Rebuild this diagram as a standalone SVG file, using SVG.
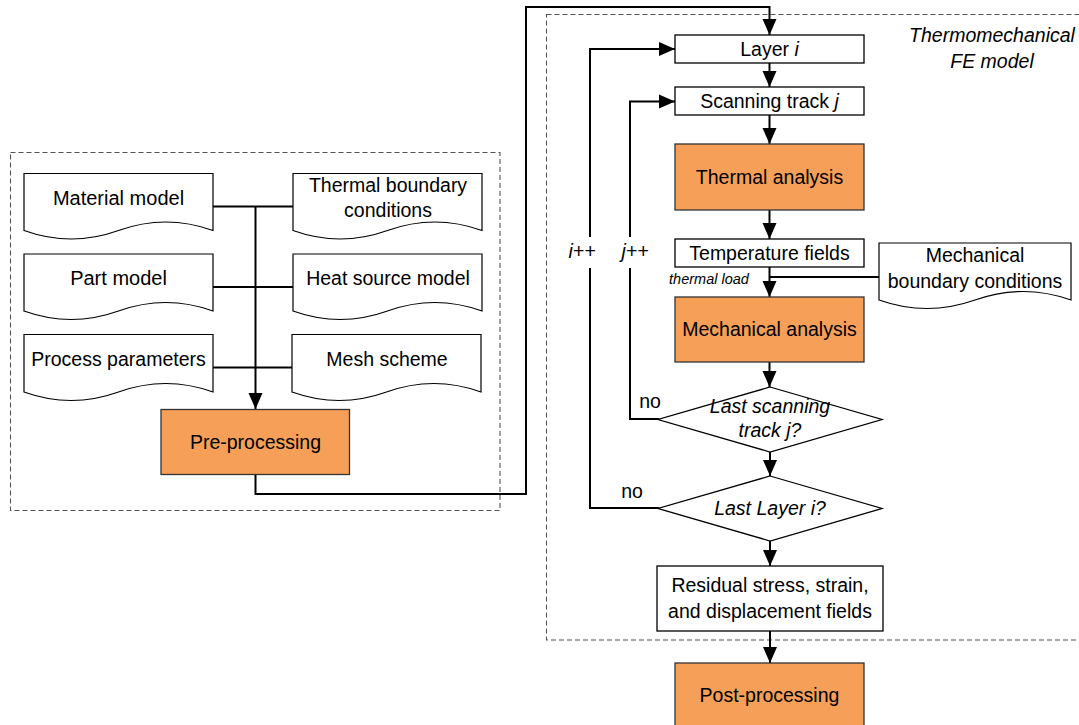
<svg xmlns="http://www.w3.org/2000/svg" width="1079" height="725" viewBox="0 0 1079 725">
<defs>
<style>
text{font-family:"Liberation Sans",Arial,sans-serif;font-size:19.5px;fill:#000;text-anchor:middle}
.it{font-style:italic}
.box{fill:#fff;stroke:#000;stroke-width:1.3}
.proc{fill:#F59F59;stroke:#333;stroke-width:1.3}
.doc{fill:#fff;stroke:#000;stroke-width:1.2}
.dash{fill:none;stroke:#555;stroke-width:1.1;stroke-dasharray:5 3}
.c{fill:none;stroke:#000;stroke-width:2}
.t{fill:none;stroke:#000;stroke-width:1.8}
.small{font-size:14.5px}
.big{font-size:20px}
</style>
<marker id="ah" markerUnits="userSpaceOnUse" markerWidth="16" markerHeight="16" viewBox="0 0 16 16" refX="16" refY="8" orient="auto">
<path d="M0,1 L16,8 L0,15 z" fill="#000"/>
</marker>
</defs>
<rect width="1079" height="725" fill="#fff"/>

<g id="frames">
<rect class="dash" x="10.5" y="152.5" width="489.5" height="358"/>
<rect class="dash" x="546.5" y="14.5" width="540" height="625.5"/>
<text class="it" x="992" y="42">Thermomechanical</text>
<text class="it" x="992" y="68">FE model</text>
</g>

<g id="connectors">
<path class="c" d="M255.5,206 V409" marker-end="url(#ah)"/>
<path class="t" d="M213,206.5 H293 M213,287 H293 M213,367.5 H292"/>
<path class="c" d="M255.5,474.5 V494 H526 V7 H769.5 V35" marker-end="url(#ah)"/>
<path class="c" d="M769.5,63 V87" marker-end="url(#ah)"/>
<path class="c" d="M769.5,115 V144" marker-end="url(#ah)"/>
<path class="c" d="M769.5,210 V239" marker-end="url(#ah)"/>
<path class="c" d="M769.5,267 V297" marker-end="url(#ah)"/>
<path class="c" d="M879,277 H769.5"/>
<path class="c" d="M769.5,362 V387" marker-end="url(#ah)"/>
<path class="c" d="M770,452 V476" marker-end="url(#ah)"/>
<path class="c" d="M770,541 V566" marker-end="url(#ah)"/>
<path class="c" d="M770,631 V663" marker-end="url(#ah)"/>
<path class="c" d="M659,419 H630 V268"/>
<path class="c" d="M630,237 V101.5 H675" marker-end="url(#ah)"/>
<path class="c" d="M659,508 H590 V268"/>
<path class="c" d="M590,237 V49 H675" marker-end="url(#ah)"/>
<text class="it" x="582" y="258">i++</text>
<text class="it" x="635" y="258">j++</text>
<text x="650" y="408">no</text>
<text x="632" y="498">no</text>
<text class="it small" x="709" y="284">thermal load</text>
</g>

<g id="material-model">
<path class="doc" d="M24,173.5 H213 V230.5 Q165.75,213.5 118.5,230.5 T24,230.5 Z"/>
<text class="big" x="118.5" y="205">Material model</text>
</g>
<g id="thermal-bc">
<path class="doc" d="M293,173.5 H482 V230.5 Q434.75,213.5 387.5,230.5 T293,230.5 Z"/>
<text x="388" y="192">Thermal boundary</text>
<text x="388" y="217">conditions</text>
</g>
<g id="part-model">
<path class="doc" d="M24,254 H213 V311 Q165.75,294 118.5,311 T24,311 Z"/>
<text class="big" x="118.5" y="285">Part model</text>
</g>
<g id="heat-source">
<path class="doc" d="M293,254 H482 V311 Q434.75,294 387.5,311 T293,311 Z"/>
<text x="388" y="285">Heat source model</text>
</g>
<g id="process-parameters">
<path class="doc" d="M24,334.5 H213 V392 Q165.75,375 118.5,392 T24,392 Z"/>
<text x="118.5" y="366">Process parameters</text>
</g>
<g id="mesh-scheme">
<path class="doc" d="M292,334.5 H481 V392 Q433.75,375 386.5,392 T292,392 Z"/>
<text x="387" y="366">Mesh scheme</text>
</g>
<g id="pre-processing">
<rect class="proc" x="161" y="409.5" width="188.5" height="65"/>
<text x="255.5" y="449">Pre-processing</text>
</g>

<g id="layer-i">
<rect class="box" x="675" y="35" width="189" height="28"/>
<text x="769.5" y="56">Layer <tspan class="it">i</tspan></text>
</g>
<g id="scanning-track">
<rect class="box" x="675" y="87" width="189" height="28"/>
<text x="769.5" y="108">Scanning track <tspan class="it">j</tspan></text>
</g>
<g id="thermal-analysis">
<rect class="proc" x="675" y="144" width="189" height="66"/>
<text x="769.5" y="184">Thermal analysis</text>
</g>
<g id="temperature-fields">
<rect class="box" x="675" y="239" width="189" height="28"/>
<text x="769.5" y="260">Temperature fields</text>
</g>
<g id="mechanical-bc">
<path class="doc" d="M879,243 H1071 V300 Q1023,283 975,300 T879,300 Z"/>
<text x="975" y="262">Mechanical</text>
<text x="975" y="288">boundary conditions</text>
</g>
<g id="mechanical-analysis">
<rect class="proc" x="675" y="297" width="189" height="65"/>
<text x="769.5" y="336">Mechanical analysis</text>
</g>
<g id="last-track">
<path class="box" d="M770,387 L882,419.5 L770,452 L658,419.5 Z"/>
<text class="it" x="770" y="413">Last scanning</text>
<text class="it" x="770" y="437">track j?</text>
</g>
<g id="last-layer">
<path class="box" d="M770,476 L882,508.5 L770,541 L658,508.5 Z"/>
<text class="it" x="770" y="515">Last Layer i?</text>
</g>
<g id="residual">
<rect class="box" x="657" y="566" width="226" height="65"/>
<text x="770" y="592">Residual stress, strain,</text>
<text x="770" y="618">and displacement fields</text>
</g>
<g id="post-processing">
<rect class="proc" x="675" y="663" width="189" height="70"/>
<text x="769.5" y="702">Post-processing</text>
</g>
</svg>
